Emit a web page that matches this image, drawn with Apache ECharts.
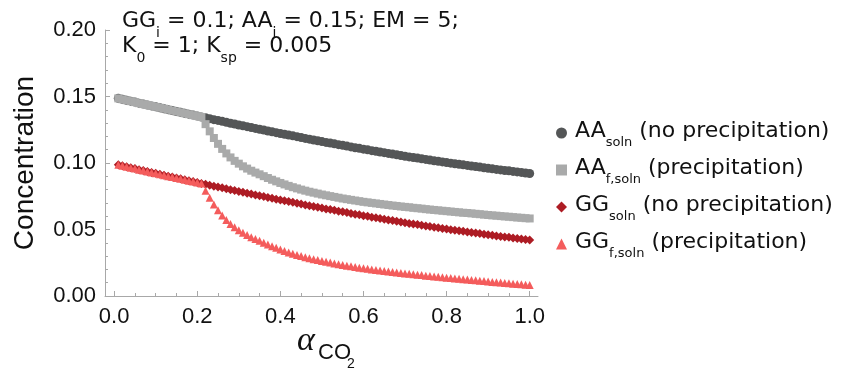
<!DOCTYPE html>
<html><head><meta charset="utf-8">
<script src="https://cdn.jsdelivr.net/npm/echarts@6/dist/echarts.min.js"></script>
<style>html,body{margin:0;padding:0;background:#fff}#c{width:846px;height:374px}</style>
</head><body><div id="c"></div>
<script>
// ---- data ----
const alpha = [
0.01,0.02,0.03,0.04,0.05,0.06,0.07,0.08,0.09,0.10,
0.11,0.12,0.13,0.14,0.15,0.16,0.17,0.18,0.19,0.20,
0.21,0.22,0.23,0.24,0.25,0.26,0.27,0.28,0.29,0.30,
0.31,0.32,0.33,0.34,0.35,0.36,0.37,0.38,0.39,0.40,
0.41,0.42,0.43,0.44,0.45,0.46,0.47,0.48,0.49,0.50,
0.51,0.52,0.53,0.54,0.55,0.56,0.57,0.58,0.59,0.60,
0.61,0.62,0.63,0.64,0.65,0.66,0.67,0.68,0.69,0.70,
0.71,0.72,0.73,0.74,0.75,0.76,0.77,0.78,0.79,0.80,
0.81,0.82,0.83,0.84,0.85,0.86,0.87,0.88,0.89,0.90,
0.91,0.92,0.93,0.94,0.95,0.96,0.97,0.98,0.99,1.00];

const aaSoln = [
0.1486,0.1479,0.1472,0.1465,0.1458,0.1450,0.1443,0.1436,0.1429,0.1422,
0.1415,0.1408,0.1401,0.1394,0.1387,0.1381,0.1374,0.1367,0.1360,0.1353,
0.1346,0.1340,0.1333,0.1326,0.1320,0.1313,0.1306,0.1299,0.1293,0.1286,
0.1280,0.1273,0.1267,0.1260,0.1254,0.1248,0.1241,0.1235,0.1228,0.1222,
0.1216,0.1210,0.1204,0.1198,0.1192,0.1185,0.1179,0.1173,0.1167,0.1161,
0.1155,0.1150,0.1144,0.1138,0.1133,0.1127,0.1121,0.1115,0.1110,0.1104,
0.1099,0.1093,0.1088,0.1083,0.1078,0.1072,0.1067,0.1062,0.1056,0.1051,
0.1046,0.1041,0.1037,0.1032,0.1027,0.1022,0.1017,0.1013,0.1008,0.1003,
0.0999,0.0994,0.0990,0.0986,0.0982,0.0977,0.0973,0.0969,0.0964,0.0960,
0.0956,0.0952,0.0948,0.0944,0.0941,0.0937,0.0933,0.0929,0.0925,0.0921];

const aaFSoln = [
0.1486,0.1479,0.1472,0.1465,0.1458,0.1450,0.1443,0.1436,0.1429,0.1422,
0.1415,0.1408,0.1401,0.1394,0.1387,0.1381,0.1374,0.1367,0.1360,0.1353,
0.1346,0.1292,0.1238,0.1188,0.1144,0.1106,0.1072,0.1042,0.1016,0.0995,
0.0975,0.0958,0.0942,0.0928,0.0915,0.0901,0.0887,0.0874,0.0862,0.0850,
0.0839,0.0828,0.0818,0.0809,0.0800,0.0792,0.0784,0.0777,0.0770,0.0763,
0.0757,0.0751,0.0745,0.0739,0.0733,0.0728,0.0723,0.0718,0.0713,0.0708,
0.0704,0.0700,0.0696,0.0692,0.0688,0.0684,0.0680,0.0677,0.0673,0.0670,
0.0667,0.0663,0.0660,0.0657,0.0653,0.0650,0.0647,0.0644,0.0641,0.0638,
0.0635,0.0632,0.0629,0.0626,0.0624,0.0621,0.0618,0.0615,0.0612,0.0609,
0.0606,0.0604,0.0601,0.0598,0.0596,0.0593,0.0590,0.0588,0.0585,0.0583];

const ggSoln = [
0.0986,0.0979,0.0972,0.0965,0.0958,0.0950,0.0943,0.0936,0.0929,0.0922,
0.0915,0.0908,0.0901,0.0894,0.0887,0.0881,0.0874,0.0867,0.0860,0.0853,
0.0846,0.0840,0.0833,0.0826,0.0820,0.0813,0.0806,0.0799,0.0793,0.0786,
0.0780,0.0773,0.0767,0.0760,0.0754,0.0748,0.0741,0.0735,0.0728,0.0722,
0.0716,0.0710,0.0704,0.0698,0.0692,0.0685,0.0679,0.0673,0.0667,0.0661,
0.0655,0.0650,0.0644,0.0638,0.0633,0.0627,0.0621,0.0615,0.0610,0.0604,
0.0599,0.0593,0.0588,0.0583,0.0578,0.0572,0.0567,0.0562,0.0556,0.0551,
0.0546,0.0541,0.0537,0.0532,0.0527,0.0522,0.0517,0.0513,0.0508,0.0503,
0.0499,0.0494,0.0490,0.0486,0.0482,0.0477,0.0473,0.0469,0.0464,0.0460,
0.0456,0.0452,0.0448,0.0444,0.0441,0.0437,0.0433,0.0429,0.0425,0.0421];

const ggFSoln = [
0.0986,0.0979,0.0972,0.0965,0.0958,0.0950,0.0943,0.0936,0.0929,0.0922,
0.0915,0.0908,0.0901,0.0894,0.0887,0.0881,0.0874,0.0867,0.0860,0.0853,
0.0846,0.0792,0.0738,0.0688,0.0644,0.0606,0.0572,0.0542,0.0516,0.0495,
0.0475,0.0458,0.0442,0.0428,0.0415,0.0401,0.0387,0.0374,0.0362,0.0350,
0.0339,0.0328,0.0318,0.0309,0.0300,0.0292,0.0284,0.0277,0.0270,0.0263,
0.0257,0.0251,0.0245,0.0239,0.0233,0.0228,0.0223,0.0218,0.0213,0.0208,
0.0204,0.0200,0.0196,0.0192,0.0188,0.0184,0.0180,0.0177,0.0173,0.0170,
0.0167,0.0163,0.0160,0.0157,0.0153,0.0150,0.0147,0.0144,0.0141,0.0138,
0.0135,0.0132,0.0129,0.0126,0.0124,0.0121,0.0118,0.0115,0.0112,0.0109,
0.0106,0.0104,0.0101,0.0098,0.0096,0.0093,0.0090,0.0088,0.0085,0.0083];

const xMajorTicks = [0.0, 0.2, 0.4, 0.6, 0.8, 1.0];
const xMinorTicks = [0.05,0.1,0.15,0.25,0.3,0.35,0.45,0.5,0.55,0.65,0.7,0.75,0.85,0.9,0.95];
const seriesNames = ['AA_soln', 'AA_f,soln', 'GG_soln', 'GG_f,soln'];
const legendTexts = {
  'AA_soln':   '{m|AA}{s|soln}{m| (no precipitation)}',
  'AA_f,soln': '{m|AA}{s|f,soln}{m| (precipitation)}',
  'GG_soln':   '{m|GG}{s|soln}{m| (no precipitation)}',
  'GG_f,soln': '{m|GG}{s|f,soln}{m| (precipitation)}'
};
const noteLine1 = '{m|GG}{s|i}{m| = 0.1; AA}{s|i}{m| = 0.15; EM = 5;}';
const noteLine2 = '{m|K}{s|0}{m| = 1; K}{s|sp}{m| = 0.005}';

// ---- chart ----
const FONT = '"Liberation Sans", Arial, sans-serif';
const TFONT = '"DejaVu Sans", sans-serif';
const AXIS_COLOR = '#a8a8a8';
const colors = ['#545657', '#a9aaaa', '#ad1c24', '#f45c5c'];
const symbols = ['circle', 'rect', 'diamond', 'triangle'];
const sizes = [9, 8, 9, 8];
const values = [aaSoln, aaFSoln, ggSoln, ggFSoln];

const chart = echarts.init(document.getElementById('c'), null, {renderer: 'canvas'});

const series = seriesNames.map((name, k) => ({
  name: name,
  type: 'scatter',
  xAxisIndex: 0,
  yAxisIndex: 0,
  symbol: symbols[k],
  symbolSize: sizes[k],
  itemStyle: {color: colors[k], opacity: 1},
  emphasis: {disabled: true},
  data: alpha.map((a, i) => [a, values[k][i]])
}));

const noteRich = {
  m: {fontSize: 22, lineHeight: 26, verticalAlign: 'top', fontFamily: TFONT, fill: '#111'},
  s: {fontSize: 14, lineHeight: 14, padding: [16, 0, 0, 0], verticalAlign: 'top', fontFamily: TFONT, fill: '#111'}
};

chart.setOption({
  animation: false,
  backgroundColor: '#fff',
  textStyle: {fontFamily: FONT},
  grid: {left: 105, right: 308, top: 30, bottom: 78, containLabel: false},
  xAxis: [{
    type: 'value', min: -0.022, max: 1.02, position: 'bottom',
    axisLine: {show: true, onZero: false, lineStyle: {color: AXIS_COLOR, width: 1}},
    axisTick: {show: true, inside: true, length: 5, customValues: xMajorTicks, lineStyle: {color: AXIS_COLOR}},
    axisLabel: {show: true, customValues: xMajorTicks, formatter: v => v.toFixed(1), fontSize: 22, color: '#111', fontFamily: FONT, margin: 10},
    splitLine: {show: false}
  }, {
    type: 'value', min: -0.022, max: 1.02, position: 'bottom', gridIndex: 0,
    axisLine: {show: false},
    axisTick: {show: true, inside: true, length: 3, customValues: xMinorTicks, lineStyle: {color: AXIS_COLOR}},
    axisLabel: {show: false},
    splitLine: {show: false}
  }],
  yAxis: {
    type: 'value', min: 0, max: 0.2, interval: 0.05,
    name: 'Concentration', nameLocation: 'middle', nameGap: 66, nameRotate: 90,
    nameTextStyle: {fontSize: 28, color: '#111', fontFamily: FONT},
    axisLine: {show: true, onZero: false, lineStyle: {color: AXIS_COLOR, width: 1}},
    axisTick: {show: true, inside: true, length: 5, lineStyle: {color: AXIS_COLOR}},
    minorTick: {show: true, splitNumber: 5, length: 3, lineStyle: {color: AXIS_COLOR}},
    axisLabel: {formatter: v => v.toFixed(2), fontSize: 22, color: '#111', fontFamily: FONT, margin: 9},
    splitLine: {show: false}, minorSplitLine: {show: false}
  },
  legend: {
    orient: 'vertical', left: 556, top: 120, padding: 0, itemWidth: 11, itemHeight: 11, itemGap: 8,
    selectedMode: false,
    data: seriesNames.map((n, k) => ({name: n, icon: symbols[k]})),
    formatter: n => legendTexts[n],
    textStyle: {
      fontFamily: TFONT, color: '#111', fontSize: 22, padding: [0, 0, 0, 3],
      rich: {
        m: {fontSize: 22, lineHeight: 26, verticalAlign: 'top', fontFamily: TFONT, color: '#111'},
        s: {fontSize: 13, lineHeight: 13, padding: [16, 0, 0, 0], verticalAlign: 'top', fontFamily: TFONT, color: '#111'}
      }
    }
  },
  graphic: [
    {type: 'text', left: 122, top: 10, silent: true, style: {text: noteLine1, rich: noteRich}},
    {type: 'text', left: 122, top: 35, silent: true, style: {text: noteLine2, rich: noteRich}},
    {type: 'text', silent: true, style: {text: 'α', x: 306, y: 341, align: 'center', verticalAlign: 'middle',
      font: 'italic 34px "Liberation Serif", serif', fill: '#111'}},
    {type: 'text', silent: true, style: {text: 'CO', x: 318, y: 353, align: 'left', verticalAlign: 'middle',
      font: '22px ' + FONT, fill: '#111'}},
    {type: 'text', silent: true, style: {text: '2', x: 347, y: 364, align: 'left', verticalAlign: 'middle',
      font: '14px ' + FONT, fill: '#111'}}
  ],
  series: series
});
</script></body></html>
